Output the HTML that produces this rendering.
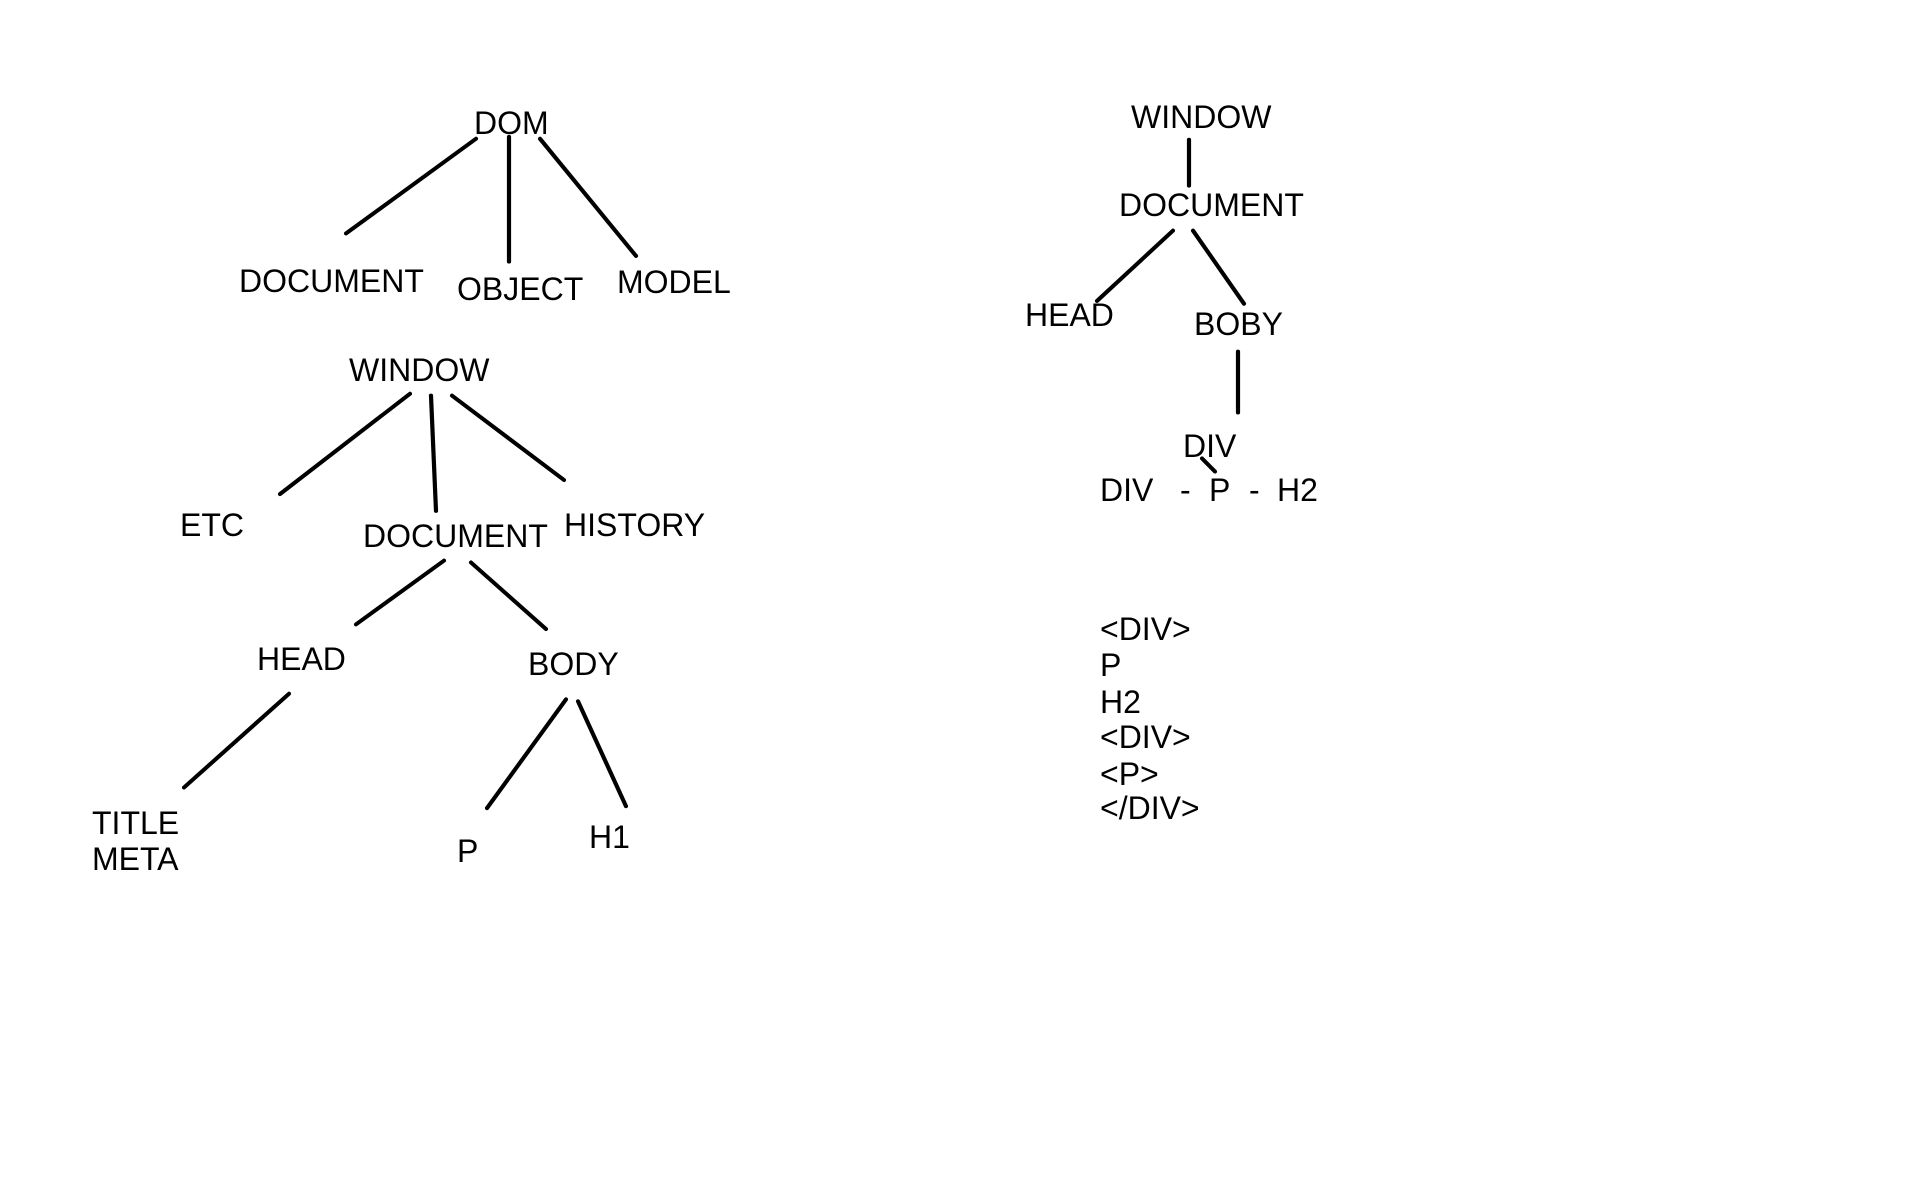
<!DOCTYPE html>
<html><head><meta charset="utf-8"><style>html,body{margin:0;padding:0;background:#fff}svg{display:block}text{font-family:"Liberation Sans",Arial,sans-serif;font-size:32px;fill:#000}</style></head>
<body>
<svg width="1918" height="1186" viewBox="0 0 1918 1186" xmlns="http://www.w3.org/2000/svg">
<g transform="scale(1,0.9375)">
<g stroke="#000" stroke-width="4.2" stroke-linecap="round" fill="none">
<line x1="476" y1="148" x2="346" y2="249"/>
<line x1="509" y1="146" x2="509" y2="279"/>
<line x1="540" y1="148" x2="636" y2="273"/>
<line x1="410" y1="420" x2="280" y2="527"/>
<line x1="431" y1="422" x2="436" y2="545"/>
<line x1="452" y1="422" x2="564" y2="512"/>
<line x1="444" y1="598" x2="356" y2="666"/>
<line x1="471" y1="600" x2="546" y2="671"/>
<line x1="289" y1="740" x2="184" y2="840"/>
<line x1="566" y1="746" x2="487" y2="862"/>
<line x1="578" y1="748" x2="626" y2="860"/>
<line x1="1189" y1="149" x2="1189" y2="198"/>
<line x1="1173" y1="246" x2="1097" y2="321"/>
<line x1="1193" y1="246" x2="1244" y2="324"/>
<line x1="1238" y1="375" x2="1238" y2="440"/>
<line x1="1202" y1="489" x2="1215" y2="503"/>
</g>
</g>
<g>
<text x="474" y="134">DOM</text>
<text x="239" y="292">DOCUMENT</text>
<text x="457" y="300">OBJECT</text>
<text x="617" y="293">MODEL</text>
<text x="349" y="381">WINDOW</text>
<text x="180" y="536">ETC</text>
<text x="363" y="547">DOCUMENT</text>
<text x="564" y="536">HISTORY</text>
<text x="257" y="670">HEAD</text>
<text x="528" y="675">BODY</text>
<text x="92" y="834">TITLE</text>
<text x="92" y="870">META</text>
<text x="457" y="862">P</text>
<text x="589" y="848">H1</text>
<text x="1131" y="128">WINDOW</text>
<text x="1119" y="216">DOCUMENT</text>
<text x="1025" y="326">HEAD</text>
<text x="1194" y="335">BOBY</text>
<text x="1183" y="457">DIV</text>
<text x="1100" y="501">DIV</text>
<text x="1180" y="501">-</text>
<text x="1209" y="501">P</text>
<text x="1249" y="501">-</text>
<text x="1277" y="501">H2</text>
<text x="1100" y="640">&lt;DIV&gt;</text>
<text x="1100" y="676">P</text>
<text x="1100" y="713">H2</text>
<text x="1100" y="748">&lt;DIV&gt;</text>
<text x="1100" y="785">&lt;P&gt;</text>
<text x="1100" y="819">&lt;/DIV&gt;</text>
</g>
</svg>
</body></html>
